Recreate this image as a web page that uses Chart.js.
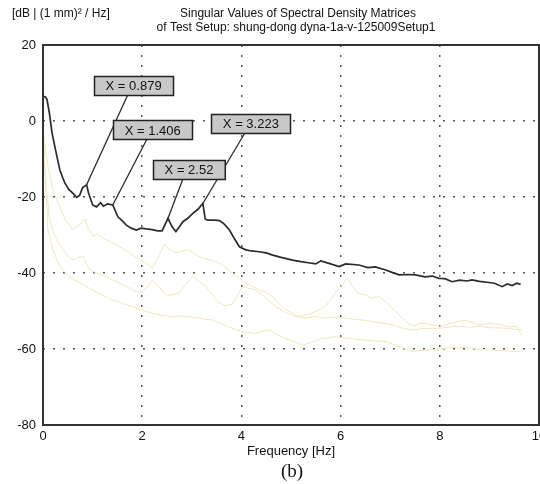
<!DOCTYPE html>
<html>
<head>
<meta charset="utf-8">
<script src="https://cdn.jsdelivr.net/npm/chart.js@4.4.0/dist/chart.umd.min.js"></script>
<style>
  html, body { margin: 0; padding: 0; background: #fff; }
  #wrap { width: 540px; height: 484px; }
</style>
</head>
<body>
<div id="wrap"><canvas id="sv-chart" width="540" height="484"></canvas></div>
<script>
// First singular value (the dark curve)
const MAIN_FREQ = [0, 0.05, 0.08, 0.13, 0.18, 0.24, 0.30, 0.34, 0.40, 0.44, 0.52, 0.60, 0.68, 0.74, 0.80, 0.879, 0.92, 1.00, 1.08, 1.16, 1.22, 1.30, 1.406, 1.51, 1.60, 1.68, 1.78, 1.88, 1.98, 2.08, 2.20, 2.31, 2.40, 2.52, 2.60, 2.68, 2.75, 2.82, 2.92, 3.02, 3.12, 3.223, 3.27, 3.32, 3.45, 3.56, 3.66, 3.76, 3.86, 3.96, 4.09, 4.2, 4.36, 4.50, 4.63, 4.8, 5.03, 5.2, 5.35, 5.5, 5.6, 5.75, 5.97, 6.1, 6.37, 6.55, 6.7, 6.91, 7.05, 7.18, 7.35, 7.51, 7.7, 7.85, 7.98, 8.1, 8.25, 8.4, 8.55, 8.65, 8.8, 8.99, 9.1, 9.26, 9.36, 9.46, 9.55, 9.63];
const MAIN_DB = [6.5, 6.3, 5.7, 2.0, -3, -6.8, -10.5, -12.9, -15, -16.3, -18, -19, -20.1, -19.5, -17.5, -16.8, -19, -22.1, -22.6, -21.5, -22.4, -21.8, -22.1, -25.2, -26.3, -27.4, -28.2, -28.7, -28.2, -28.4, -28.6, -28.9, -28.9, -25.6, -27.8, -29.1, -27.8, -26.5, -25.6, -24.3, -23.3, -21.7, -25.8, -26.1, -26.1, -26.2, -27.2, -28.7, -31, -33.1, -33.9, -34.2, -34.4, -34.7, -35.3, -35.9, -36.6, -37, -37.3, -37.6, -36.8, -37.4, -38.3, -37.6, -37.9, -38.6, -38.4, -39.2, -39.9, -40.5, -40.4, -40.5, -41, -40.8, -41.4, -41.5, -42.3, -41.9, -42.1, -41.8, -42.2, -42.5, -42.7, -43.6, -42.9, -43.3, -42.7, -43];

// the three faint yellow curves (higher singular values)
const SV2_FREQ = [0.02, 0.1, 0.2, 0.33, 0.45, 0.6, 0.72, 0.84, 0.92, 1.0, 1.1, 1.2, 1.33, 1.47, 1.6, 1.74, 1.94, 2.08, 2.2, 2.32, 2.44, 2.56, 2.68, 2.8, 2.94, 3.08, 3.21, 3.38, 3.55, 3.68, 3.81, 3.95, 4.08, 4.22, 4.35, 4.5, 4.62, 4.75, 4.88, 5.0, 5.15, 5.3, 5.42, 5.55, 5.69, 5.8, 5.89, 6.0, 6.13, 6.25, 6.35, 6.5, 6.62, 6.77, 6.9, 7.1, 7.25, 7.44, 7.6, 7.8, 8.0, 8.2, 8.35, 8.5, 8.65, 8.79, 9.0, 9.2, 9.4, 9.55, 9.65];
const SV2_DB = [-4, -12, -18, -22.5, -26, -28.6, -27.5, -25.8, -28.5, -30.4, -29.8, -30.8, -31.5, -32.5, -33.4, -34.7, -36.5, -37.3, -38.7, -36, -32.5, -33.8, -34.7, -34.2, -33.9, -35.2, -36, -36.6, -37.4, -38.5, -40, -41.2, -42.6, -43.5, -44.4, -45.1, -46.1, -48, -49.6, -50.3, -51.4, -51, -50.5, -49.8, -48.8, -47, -45.3, -43.5, -41.3, -43.6, -45.3, -45.8, -46.6, -46.2, -47.5, -50, -52, -54, -53.2, -53.5, -54, -53.4, -52.8, -52.5, -53, -53.7, -53.2, -53.5, -54.2, -54, -56.3];

const SV3_FREQ = [0.02, 0.07, 0.13, 0.25, 0.4, 0.5, 0.6, 0.7, 0.8, 0.94, 1.1, 1.27, 1.43, 1.6, 1.77, 1.94, 2.08, 2.21, 2.34, 2.47, 2.6, 2.74, 2.88, 3.01, 3.15, 3.28, 3.42, 3.55, 3.68, 3.81, 3.92, 4.02, 4.15, 4.29, 4.5, 4.7, 4.9, 5.1, 5.3, 5.5, 5.7, 5.9, 6.1, 6.3, 6.5, 6.75, 7.0, 7.2, 7.44, 7.7, 8.0, 8.2, 8.4, 8.6, 8.79, 9.0, 9.3, 9.5, 9.65];
const SV3_DB = [-10, -18, -26, -30.5, -33.9, -35.5, -36.5, -35.9, -35.6, -39.1, -40.2, -40.9, -42, -43, -44.2, -45.3, -44, -41.8, -43.6, -45.7, -45.8, -45.3, -43, -40.9, -42.2, -43.5, -45.8, -47.9, -48.6, -48.3, -46, -43.6, -44, -44.5, -46.6, -48.9, -50.4, -51.5, -51.8, -51.5, -51.9, -51.6, -51.9, -52.2, -52.5, -53, -53.5, -54.3, -55, -54.6, -54.5, -54.2, -54, -54.3, -54, -54.4, -54.5, -54.8, -55];

const SV4_FREQ = [0.02, 0.06, 0.1, 0.2, 0.34, 0.47, 0.6, 0.8, 1.0, 1.2, 1.41, 1.6, 1.81, 2.0, 2.21, 2.42, 2.62, 2.8, 2.95, 3.2, 3.42, 3.65, 3.89, 4.1, 4.29, 4.42, 4.56, 4.75, 4.96, 5.1, 5.23, 5.42, 5.63, 5.9, 6.17, 6.44, 6.7, 6.9, 7.2, 7.44, 7.7, 8.0, 8.25, 8.5, 8.75, 9.0, 9.3, 9.5, 9.65];
const SV4_DB = [-6, -18, -28.7, -34, -38.3, -40.2, -41.6, -43, -44.5, -45.8, -47.1, -48, -48.9, -49.8, -50.6, -51.2, -51.5, -51.3, -51.5, -52, -52.4, -53.6, -55, -55.6, -55.9, -55.3, -55, -56.4, -57.6, -58.3, -59, -58.2, -57.2, -56.8, -57.2, -57.6, -57.9, -58, -59.4, -60.7, -60.3, -60, -59.6, -59.5, -60, -60.3, -60.5, -60.6, -60.7];

// peak picks shown with callouts
const PEAK_FREQS = [0.879, 1.406, 2.52, 3.223];
const PEAK_LABELS = ['X = 0.879', 'X = 1.406', 'X = 2.52', 'X = 3.223'];

const UNIT_TEXT = '[dB | (1 mm)\u00B2 / Hz]';
const TITLE_LINES = ['Singular Values of Spectral Density Matrices', 'of Test Setup: shung-dong dyna-1a-v-125009Setup1'];
const X_TITLE = 'Frequency [Hz]';
const CAPTION = '(b)';

// pixel offsets of each callout box centre from its peak (layout only)
const CALLOUT_OFFSETS = [[47, -99], [40, -75], [21, -49], [48, -80]];

const toPoints = (xs, ys) => xs.map((x, i) => ({ x, y: ys[i] }));

const FAINT = '#efe8bf';
const SANS = '"Liberation Sans", Arial, sans-serif';

const framePlugin = {
  id: 'frameAndCallouts',
  afterDatasetsDraw(chart) {
    const { ctx, chartArea: a, scales: { x, y } } = chart;
    ctx.save();
    // plot frame
    ctx.strokeStyle = '#333';
    ctx.lineWidth = 2;
    ctx.strokeRect(a.left, a.top, a.right - a.left, a.bottom - a.top);

    // callouts: all leader lines first, boxes on top of them
    ctx.font = '13px ' + SANS;
    const items = PEAK_FREQS.map((f, i) => {
      const idx = MAIN_FREQ.indexOf(f);
      const px = x.getPixelForValue(f);
      const py = y.getPixelForValue(MAIN_DB[idx]);
      const cx = px + CALLOUT_OFFSETS[i][0];
      const cy = py + CALLOUT_OFFSETS[i][1];
      const w = ctx.measureText(PEAK_LABELS[i]).width + 23;
      return { px, py, cx, cy, w, h: 19, text: PEAK_LABELS[i] };
    });
    ctx.strokeStyle = '#2a2a2a';
    ctx.lineWidth = 1.3;
    items.forEach(it => {
      ctx.beginPath();
      ctx.moveTo(it.cx - 6, it.cy + it.h / 2);
      ctx.lineTo(it.px, it.py);
      ctx.stroke();
    });
    items.forEach(it => {
      const l = Math.round(it.cx - it.w / 2) + 0.5, t = Math.round(it.cy - it.h / 2) + 0.5;
      ctx.fillStyle = '#c8c8c8';
      ctx.fillRect(l, t, it.w, it.h);
      ctx.lineWidth = 1.5;
      ctx.strokeStyle = '#222';
      ctx.strokeRect(l, t, it.w, it.h);
      ctx.fillStyle = '#111';
      ctx.textAlign = 'center';
      ctx.textBaseline = 'middle';
      ctx.fillText(it.text, it.cx, it.cy + 1);
    });
    ctx.restore();
  },
  afterDraw(chart) {
    const { ctx } = chart;
    ctx.save();
    ctx.fillStyle = '#111';
    ctx.textBaseline = 'middle';
    ctx.font = '12px ' + SANS;
    ctx.textAlign = 'left';
    ctx.fillText(UNIT_TEXT, 12, 14);
    ctx.textAlign = 'center';
    ctx.fillText(TITLE_LINES[0], 298, 14);
    ctx.fillText(TITLE_LINES[1], 296, 28);
    ctx.font = '19px "Liberation Serif", "Times New Roman", serif';
    ctx.fillText(CAPTION, 292, 472);
    ctx.restore();
  }
};

const dotted = { dash: [2, 8], display: false };
const gridOpts = { color: '#555', lineWidth: 1.5, drawTicks: false };

new Chart(document.getElementById('sv-chart').getContext('2d'), {
  type: 'line',
  data: {
    datasets: [
      { label: 'SV1', data: toPoints(MAIN_FREQ, MAIN_DB), borderColor: '#2b2b2b', borderWidth: 1.7, pointRadius: 0, tension: 0 },
      { label: 'SV2', data: toPoints(SV2_FREQ, SV2_DB), borderColor: FAINT, borderWidth: 1, pointRadius: 0, tension: 0 },
      { label: 'SV3', data: toPoints(SV3_FREQ, SV3_DB), borderColor: FAINT, borderWidth: 1, pointRadius: 0, tension: 0 },
      { label: 'SV4', data: toPoints(SV4_FREQ, SV4_DB), borderColor: FAINT, borderWidth: 1, pointRadius: 0, tension: 0 }
    ]
  },
  options: {
    responsive: false,
    animation: false,
    layout: { padding: { top: 45, right: 1, left: 0, bottom: 0 } },
    plugins: { legend: { display: false }, tooltip: { enabled: false }, title: { display: false } },
    scales: {
      x: {
        type: 'linear', min: 0, max: 10,
        ticks: { stepSize: 2, padding: 4, color: '#111', font: { family: SANS, size: 13 }, maxRotation: 0 },
        grid: gridOpts,
        border: dotted,
        title: { display: true, text: X_TITLE, color: '#111', font: { family: SANS, size: 13 }, padding: { top: 0, bottom: 25 } },
        afterFit(s) { s.height = 59; s.paddingLeft = 0; s.paddingRight = 0; }
      },
      y: {
        min: -80, max: 20,
        ticks: { stepSize: 20, padding: 7, color: '#111', font: { family: SANS, size: 13 } },
        grid: gridOpts,
        border: dotted,
        afterFit(s) { s.width = 43; }
      }
    }
  },
  plugins: [framePlugin]
});
</script>
</body>
</html>
